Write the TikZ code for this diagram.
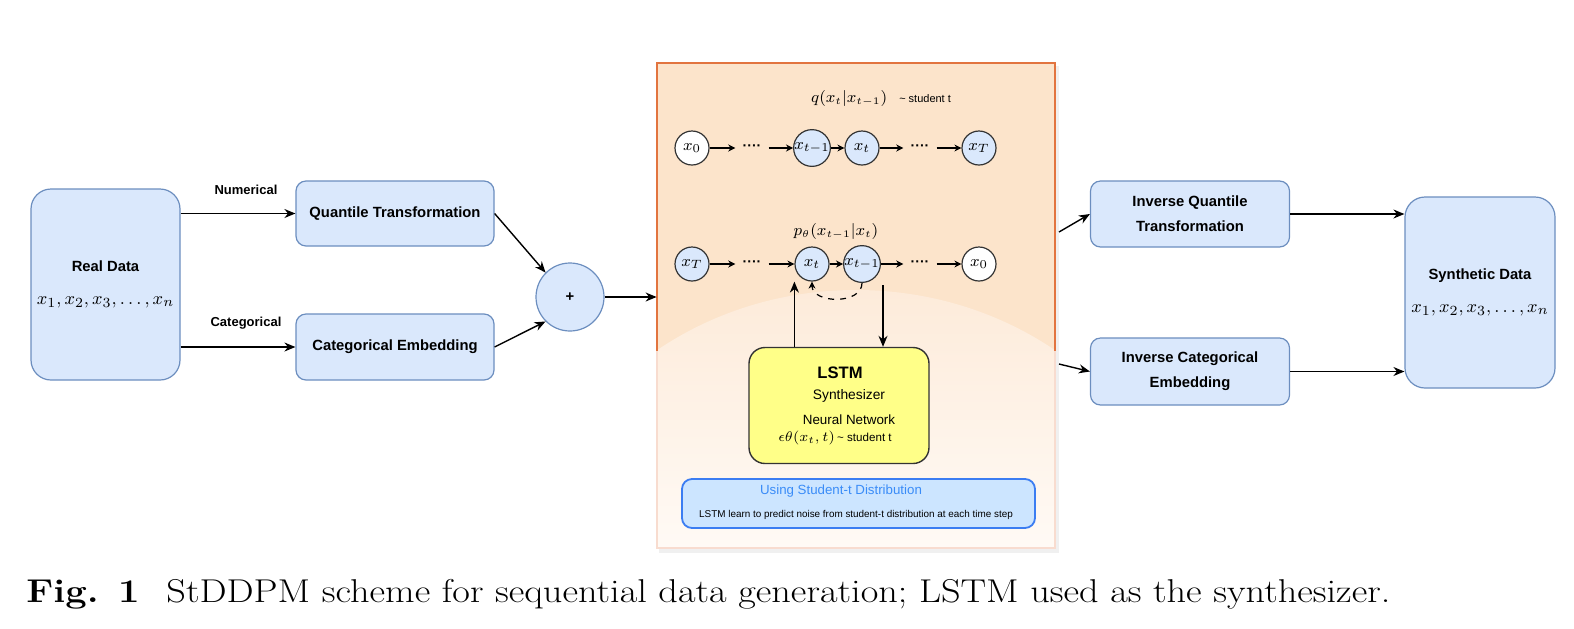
\documentclass[tikz,border=0pt]{standalone}
\usepackage{graphicx}
\usepackage{fontspec}
\newfontfamily\hv{Liberation Sans}
\usepackage{amsmath}
\usetikzlibrary{arrows.meta, positioning, calc}

\definecolor{blockfill}{HTML}{DAE8FC}
\definecolor{blockline}{HTML}{6C8EBF}
\definecolor{peachtop}{HTML}{FCE4CB}
\definecolor{peachlow}{HTML}{FDEBDA}
\definecolor{peachend}{HTML}{FFFAF5}
\definecolor{panelline}{HTML}{E2743F}
\definecolor{lstmfill}{HTML}{FFFF88}
\definecolor{notefill}{HTML}{CCE5FF}
\definecolor{noteline}{HTML}{3B7DF2}
\definecolor{notetitle}{HTML}{3A8CF8}

\begin{document}
\begin{tikzpicture}[x=0.5pt, y=-0.5pt,
    block/.style={draw=blockline, fill=blockfill, line width=0.6pt, rounded corners=5pt, align=center, inner sep=2pt, font=\hv\bfseries\fontsize{7.4}{12.5}\selectfont},
    state/.style={circle, draw=black!80, fill=blockfill, line width=0.6pt, minimum size=17pt, inner sep=0pt, font=\fontsize{8.5}{9}\selectfont},
    start/.style={state, fill=white},
    dots/.style={inner sep=3.5pt, font=\hv\bfseries\fontsize{7}{8}\selectfont},
    arr/.style={-{Stealth[length=5.5pt, width=4.5pt]}, line width=0.7pt},
    chain/.style={-{Stealth[length=3.5pt, width=3.5pt]}, line width=0.6pt},
    lbl/.style={font=\hv\bfseries\fontsize{6.5}{7}\selectfont, inner sep=0pt}]

  \useasboundingbox (0,0) rectangle (1574,628);

  % input side
  \node[block, rounded corners=10pt, minimum width=74.5pt, minimum height=95.5pt] (real) at (105.5,284.5)
    {Real Data\\[4pt]\mdseries\fontsize{9.5}{10}\selectfont $x_1, x_2, x_3, \ldots, x_n$};
  \node[block, minimum width=99pt, minimum height=32.5pt] (quant) at (395,213.5) {Quantile Transformation};
  \node[block, minimum width=99pt, minimum height=33pt] (catemb) at (395,347) {Categorical Embedding};
  \node[lbl] (numlbl) at (246,190) {Numerical};
  \node[lbl] (catlbl) at (246,323) {Categorical};
  \node[block, circle, minimum size=34pt, inner sep=0pt] (plus) at (570,297) {+};

  \draw[arr] (quant.west -| real.east) -- (quant.west);
  \draw[arr] (catemb.west -| real.east) -- (catemb.west);
  \draw[arr] (quant.east) -- (plus.north west);
  \draw[arr] (catemb.east) -- (plus.south west);

  % diffusion panel
  \node[minimum width=199pt, minimum height=242.5pt, inner sep=0pt] (panel) at (856,305.5) {};
  \fill[black!6] ($(panel.north west)+(2,3)$) rectangle ($(panel.south east)+(4,5)$);
  \fill[peachtop] (panel.north west) rectangle (panel.south east);
  \begin{scope}
    \clip (panel.north west) rectangle (panel.south east);
    \clip (856,600) ellipse [x radius=336, y radius=310];
    \shade[top color=peachlow, bottom color=peachend] (657,290) rectangle (1055,548);
  \end{scope}
  \draw[panelline, line width=0.6pt] (657,351) |- (1055,63) -- (1055,351);
  \draw[panelline!25, line width=0.6pt] (657,351) |- (1055,548) -- (1055,351);

  % forward chain
  \node[start] (qx0) at (692,148) {$x_0$};
  \node[dots] (qd1) at (752,148) {····};
  \node[state] (qxprev) at (812,148) {$x_{t-1}$};
  \node[state] (qxt) at (862,148) {$x_t$};
  \node[dots] (qd2) at (920,148) {····};
  \node[state] (qxT) at (979,148) {$x_T$};
  \node[font=\fontsize{7.6}{9}\selectfont] (qlbl) at (881,98)
    {$q(x_t|x_{t-1})$\hspace{6pt}{\hv\fontsize{5.5}{6}\selectfont\textasciitilde\ student t}};
  \draw[chain] (qx0) -- (qd1);
  \draw[chain] (qd1) -- (qxprev);
  \draw[chain] (qxprev) -- (qxt);
  \draw[chain] (qxt) -- (qd2);
  \draw[chain] (qd2) -- (qxT);

  % reverse chain
  \node[state] (pxT) at (692,264) {$x_T$};
  \node[dots] (pd1) at (752,264) {····};
  \node[state] (pxt) at (812,264) {$x_t$};
  \node[state] (pxprev) at (862,264) {$x_{t-1}$};
  \node[dots] (pd2) at (920,264) {····};
  \node[start] (px0) at (979,264) {$x_0$};
  \node[font=\fontsize{7.8}{9}\selectfont] (plbl) at (836,231) {$p_\theta(x_{t-1}|x_t)$};
  \draw[chain] (pxT) -- (pd1);
  \draw[chain] (pd1) -- (pxt);
  \draw[chain] (pxt) -- (pxprev);
  \draw[chain] (pxprev) -- (pd2);
  \draw[chain] (pd2) -- (px0);
  \draw[chain, dashed] (pxprev.south) .. controls +(0,22) and +(0,22) .. (pxt.south);

  % synthesizer
  \node[draw=black!80, fill=lstmfill, line width=0.7pt, rounded corners=8pt, minimum width=90pt, minimum height=58pt] (lstm) at (839,405.5) {};
  \node[font=\hv\bfseries\fontsize{8.3}{9}\selectfont] (lstmname) at (840,373) {LSTM};
  \node[font=\hv\fontsize{6.9}{8}\selectfont] (lstmrole) at (849,396) {Synthesizer};
  \node[font=\hv\fontsize{6.7}{8}\selectfont] (lstmnet) at (849,420) {Neural Network};
  \node[font=\fontsize{7.3}{8}\selectfont] (lstmeps) at (835,438)
    {$\epsilon\theta(x_t, t)$\,{\hv\fontsize{5.8}{7}\selectfont\textasciitilde\ student t}};
  \coordinate (back) at (883,285);
  \draw[arr] (lstm.north -| pxt.west) -- (pxt.west |- pxt.south);
  \draw[arr] (back) -- (back |- lstm.north);

  \node[draw=noteline, fill=notefill, line width=0.9pt, rounded corners=5pt, minimum width=176.5pt, minimum height=24.5pt] (note) at (858.5,503.5) {};
  \node[font=\hv\fontsize{6.65}{8}\selectfont, text=notetitle] (notehead) at (841,491) {Using Student-t Distribution};
  \node[font=\hv\fontsize{4.95}{6}\selectfont] (notebody) at (856,515) {LSTM learn to predict noise from student-t distribution at each time step};

  \draw[arr] (plus) -- (plus -| panel.west);

  % output side
  \coordinate (outq) at (1059,232);
  \coordinate (outc) at (1059,364);
  \node[block, minimum width=99.5pt, minimum height=33pt] (invq) at (1190,214) {Inverse Quantile\\Transformation};
  \node[block, minimum width=99.5pt, minimum height=33.5pt] (invc) at (1190,371.5) {Inverse Categorical\\Embedding};
  \node[block, rounded corners=10pt, minimum width=75pt, minimum height=95.5pt] (synth) at (1480,292.5)
    {Synthetic Data\\[4pt]\mdseries\fontsize{9.5}{10}\selectfont $x_1, x_2, x_3, \ldots, x_n$};
  \draw[arr] (outq) -- (invq.west);
  \draw[arr] (outc) -- (invc.west);
  \draw[arr] (invq.east) -- (invq.east -| synth.west);
  \draw[arr] (invc.east) -- (invc.east -| synth.west);

  \node[anchor=base west, inner sep=0pt, font=\fontsize{16.5}{20}\selectfont] (caption) at (26,602)
    {\scalebox{1.16}[1]{\textbf{Fig. 1}\hspace{0.7em}StDDPM scheme for sequential data generation; LSTM used as the synthesizer.}};
\end{tikzpicture}
\end{document}
